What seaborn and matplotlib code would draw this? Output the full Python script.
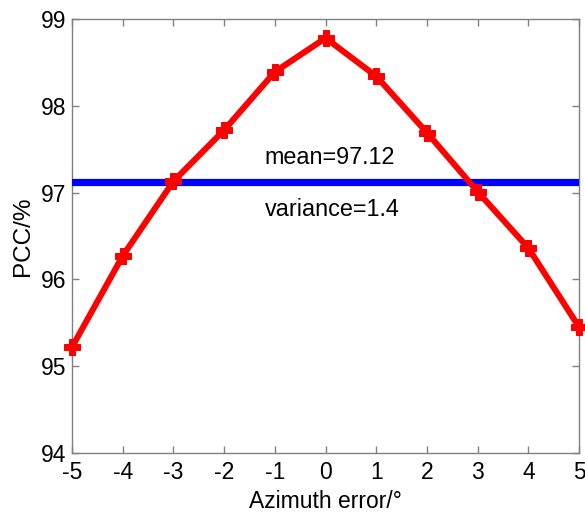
import matplotlib
matplotlib.use("Agg")
import matplotlib.pyplot as plt
import seaborn as sns
import pandas as pd

# Azimuth error sweep and the resulting PCC values
azimuth_error = [-5, -4, -3, -2, -1, 0, 1, 2, 3, 4, 5]
pcc = [95.22, 96.27, 97.13, 97.72, 98.39, 98.78, 98.34, 97.69, 97.01, 96.36, 95.45]
mean_pcc = 97.12
variance_text = "variance=1.4"
mean_text = "mean=97.12"
x_ticks = [-5, -4, -3, -2, -1, 0, 1, 2, 3, 4, 5]
y_ticks = [94, 95, 96, 97, 98, 99]

sns.set_theme(style="white")
plt.rcParams["font.family"] = ["Liberation Sans", "DejaVu Sans"]
plt.rcParams["axes.unicode_minus"] = False
plt.rcParams["text.color"] = "black"
plt.rcParams["axes.labelcolor"] = "black"

df = pd.DataFrame({"err": azimuth_error, "pcc": pcc})

fig = plt.figure(figsize=(5.85, 5.12), dpi=100)
ax = fig.add_axes([0.123, 0.115, 0.867, 0.848])

sns.lineplot(data=df, x="err", y="pcc", ax=ax, color="red", linewidth=4.4,
             marker="P", markersize=12, markeredgecolor="red",
             markerfacecolor="red", clip_on=False, zorder=4)
ax.axhline(mean_pcc, color="blue", linewidth=5.2, zorder=3)

ax.text(-1.2, 97.40, mean_text, fontsize=16.8, va="center", ha="left")
ax.text(-1.2, 96.80, variance_text, fontsize=16.8, va="center", ha="left")

ax.set_xlim(-5, 5)
ax.set_ylim(94, 99)
ax.set_xticks(x_ticks)
ax.set_yticks(y_ticks)
ax.set_xlabel("Azimuth error/°", fontsize=16.5, labelpad=4)
ax.set_ylabel("PCC/%", fontsize=17.5, labelpad=5)

for s in ax.spines.values():
    s.set_color("#808080")
    s.set_linewidth(1.0)
ax.tick_params(axis="both", which="both", direction="in", length=5, width=1,
               color="#808080", labelsize=16.5, top=True, right=True,
               bottom=True, left=True, labelcolor="black")
ax.tick_params(axis="x", pad=6)
ax.tick_params(axis="y", pad=4)

fig.savefig("out.png", dpi=100, facecolor="white")
